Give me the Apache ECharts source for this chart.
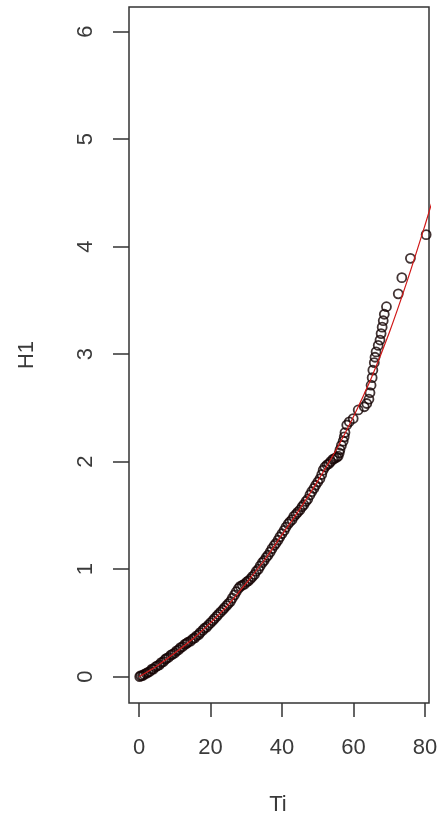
<!DOCTYPE html>
<html>
<head>
<meta charset="utf-8">
<script src="https://cdn.jsdelivr.net/npm/echarts@6/dist/echarts.min.js"></script>
<style>html,body{margin:0;padding:0;background:#fff}#c{width:441px;height:821px}</style>
</head>
<body>
<div id="c"></div>
<script>
// Observed points (Ti, H1)
var pointTi = [0.2,0.5,1.0,1.4,2.0,2.5,3.1,3.6,4.0,4.6,5.1,5.7,6.2,6.8,7.3,7.7,8.3,8.9,9.4,10.0,10.5,11.1,11.6,12.2,12.8,13.3,13.7,14.4,15.0,15.6,16.1,16.7,17.1,17.8,18.3,18.9,19.4,20.0,20.6,21.1,21.7,22.2,22.8,23.4,23.9,24.5,25.0,25.6,26.1,26.7,27.2,27.8,28.3,28.9,29.5,30.1,30.6,31.2,31.7,32.3,32.8,33.4,33.9,34.5,35.0,35.6,36.1,36.7,37.2,37.8,38.3,38.9,39.4,40.0,40.6,41.1,41.7,42.2,42.8,43.3,43.9,44.4,45.0,45.6,46.1,46.7,47.2,47.8,48.3,48.9,49.4,50.0,50.6,51.1,51.5,52.0,52.6,53.1,53.6,54.2,54.7,55.3,55.7,56.0,56.2,56.6,57.1,57.4,57.6,58.1,58.8,59.9,61.3,63.0,63.7,64.3,64.6,64.9,65.2,65.4,65.8,66.0,66.3,66.9,67.4,67.7,68.0,68.3,68.6,69.2,72.5,73.5,75.9,80.3];
var pointH1 = [0.00,0.01,0.01,0.02,0.03,0.04,0.05,0.07,0.07,0.09,0.10,0.11,0.13,0.14,0.16,0.17,0.18,0.20,0.21,0.22,0.24,0.25,0.27,0.28,0.30,0.31,0.32,0.33,0.35,0.36,0.38,0.39,0.41,0.43,0.45,0.46,0.48,0.50,0.52,0.54,0.56,0.58,0.60,0.62,0.64,0.66,0.68,0.70,0.73,0.76,0.79,0.82,0.84,0.85,0.86,0.88,0.89,0.91,0.93,0.95,0.98,1.00,1.03,1.06,1.08,1.11,1.13,1.16,1.19,1.22,1.24,1.27,1.30,1.33,1.36,1.39,1.42,1.44,1.46,1.49,1.51,1.53,1.55,1.58,1.60,1.63,1.65,1.69,1.72,1.75,1.78,1.81,1.84,1.88,1.92,1.95,1.97,1.98,2.00,2.02,2.03,2.04,2.05,2.08,2.11,2.15,2.19,2.23,2.27,2.34,2.37,2.40,2.48,2.51,2.54,2.58,2.64,2.71,2.78,2.85,2.92,2.97,3.02,3.08,3.13,3.19,3.25,3.31,3.37,3.44,3.56,3.71,3.89,4.11];
// Fitted curve (red)
var fitTi = [0,5,10,15,20,25,30,35,40,45,50,55,60,65,70,75,80,82];
var fitH1 = [0,0.10,0.22,0.35,0.50,0.67,0.87,1.08,1.32,1.56,1.82,2.10,2.42,2.78,3.20,3.68,4.20,4.42];
// Tick labels
var xTicks = [0,20,40,60,80];
var yTicks = [0,1,2,3,4,5,6];

var pts = pointTi.map(function(x,i){return [x, pointH1[i]];});
var fit = fitTi.map(function(x,i){return [x, fitH1[i]];});

var chart = echarts.init(document.getElementById('c'));
var FONT = '"Liberation Sans", Arial, sans-serif';
var lblColor = '#3a3a3a';
var tickStyle = {color: '#333', width: 1.5};
chart.setOption({
  animation: false,
  backgroundColor: '#fff',
  grid: [
    {left: 129, top: 7, width: 300, height: 696, show: true, borderColor: '#333', borderWidth: 1.5, backgroundColor: 'transparent'},
    {left: 139, top: 7, width: 286, height: 696},
    {left: 129, top: 31.7, width: 300, height: 645}
  ],
  xAxis: [
    {gridIndex: 0, type: 'value', min: -2.8, max: 81.1, show: false},
    {gridIndex: 1, type: 'value', min: xTicks[0], max: xTicks[xTicks.length-1], interval: 20, position: 'bottom',
     axisLine: {show: false}, splitLine: {show: false},
     axisTick: {show: true, length: 14, lineStyle: tickStyle},
     axisLabel: {margin: 34, fontSize: 22, color: lblColor, fontFamily: FONT,
       formatter: function(v){return xTicks.indexOf(v) >= 0 ? String(v) : '';}}},
    {gridIndex: 2, type: 'value', min: 0, max: 1, show: false}
  ],
  yAxis: [
    {gridIndex: 0, type: 'value', min: -0.245, max: 6.227, show: false},
    {gridIndex: 1, type: 'value', min: 0, max: 1, show: false},
    {gridIndex: 2, type: 'value', min: yTicks[0], max: yTicks[yTicks.length-1], interval: 1, position: 'left',
     axisLine: {show: false}, splitLine: {show: false},
     axisTick: {show: true, length: 16, lineStyle: tickStyle},
     axisLabel: {margin: 32, fontSize: 22, color: lblColor, fontFamily: FONT, rotate: 90, align: 'center', verticalAlign: 'bottom',
       formatter: function(v){return yTicks.indexOf(v) >= 0 ? String(v) : '';}}}
  ],
  graphic: [
    {type: 'text', x: 278, y: 805, style: {text: 'Ti', fontSize: 22, fill: lblColor, fontFamily: FONT, align: 'center', verticalAlign: 'middle'}},
    {type: 'text', x: 27, y: 355, rotation: Math.PI/2, style: {text: 'H1', fontSize: 22, fill: lblColor, fontFamily: FONT, align: 'center', verticalAlign: 'middle'}}
  ],
  series: [
    {type: 'scatter', xAxisIndex: 0, yAxisIndex: 0, data: pts, symbol: 'circle', symbolSize: 9,
     itemStyle: {color: 'transparent', borderColor: '#140303', borderWidth: 1.8}, z: 2},
    {type: 'line', xAxisIndex: 0, yAxisIndex: 0, data: fit, smooth: 0.3, showSymbol: false, clip: true,
     lineStyle: {color: '#d01818', width: 1.2}, z: 3}
  ]
});
</script>
</body>
</html>
